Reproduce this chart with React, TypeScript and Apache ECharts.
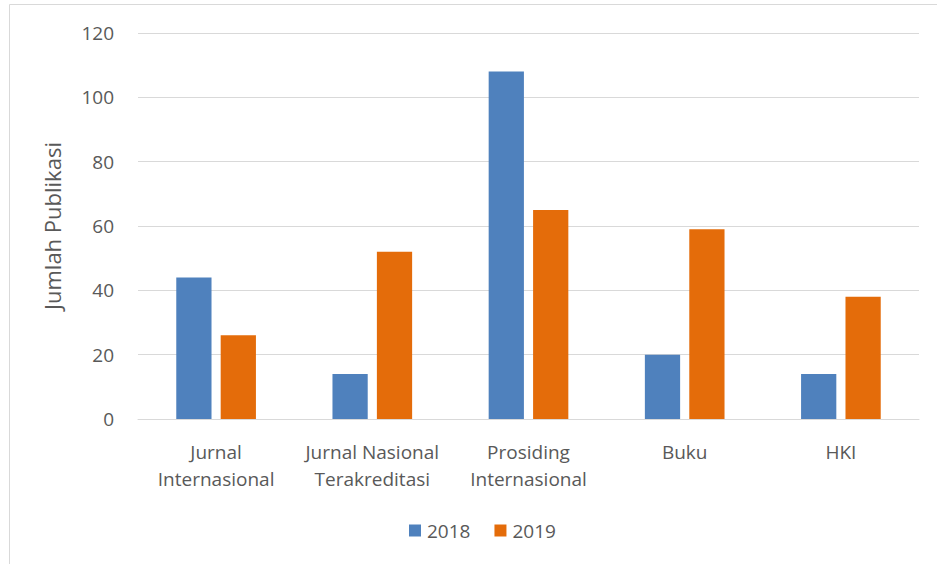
import React, { useEffect, useRef } from "react";
import * as echarts from "echarts";

const categories = ["Jurnal\nInternasional", "Jurnal Nasional\nTerakreditasi", "Prosiding\nInternasional", "Buku", "HKI"];
const values2018 = [44, 14, 108, 20, 14];
const values2019 = [26, 52, 65, 59, 38];
const yTicks = { min: 0, max: 120, interval: 20 };

export default function App() {
  const ref = useRef<HTMLDivElement>(null);
  useEffect(() => {
    document.body.style.margin = "0";
    const chart = echarts.init(ref.current!, null, { renderer: "svg" });
    const font = "'Open Sans', 'Noto Sans', sans-serif";
    chart.setOption({
      animation: false,
      backgroundColor: "#ffffff",
      textStyle: { fontFamily: font },
      graphic: [
        {
          type: "rect",
          shape: { x: 9.5, y: 4.5, width: 940, height: 580 },
          style: { fill: "none", stroke: "#d9d9d9", lineWidth: 1 },
          silent: true,
        },
      ],
      grid: { left: 138, right: 18, top: 33, bottom: 145, containLabel: false },
      legend: {
        bottom: 19,
        left: 404,
        itemWidth: 12,
        itemHeight: 12,
        itemGap: 24,
        icon: "rect",
        textStyle: { color: "#595959", fontSize: 19, fontFamily: font, padding: [0, 0, 0, 1] },
        data: ["2018", "2019"],
      },
      xAxis: {
        type: "category",
        data: categories,
        axisLine: { lineStyle: { color: "#d9d9d9" } },
        axisTick: { show: false },
        axisLabel: { color: "#595959", fontSize: 19, lineHeight: 27, margin: 19, interval: 0, fontFamily: font },
      },
      yAxis: {
        type: "value",
        min: yTicks.min,
        max: yTicks.max,
        interval: yTicks.interval,
        name: "Jumlah Publikasi",
        nameLocation: "middle",
        nameGap: 75,
        nameTextStyle: { color: "#595959", fontSize: 22, fontFamily: font },
        axisLine: { show: false },
        axisTick: { show: false },
        splitLine: { lineStyle: { color: "#d9d9d9" } },
        axisLabel: { color: "#595959", fontSize: 19, margin: 24, fontFamily: font },
      },
      series: [
        {
          name: "2018",
          type: "bar",
          data: values2018,
          itemStyle: { color: "#4f81bd" },
          barGap: "26%",
          barCategoryGap: "49%",
        },
        {
          name: "2019",
          type: "bar",
          data: values2019,
          itemStyle: { color: "#e46c0a" },
        },
      ],
    });
    return () => chart.dispose();
  }, []);
  return <div ref={ref} style={{ width: 937, height: 564 }} />;
}
